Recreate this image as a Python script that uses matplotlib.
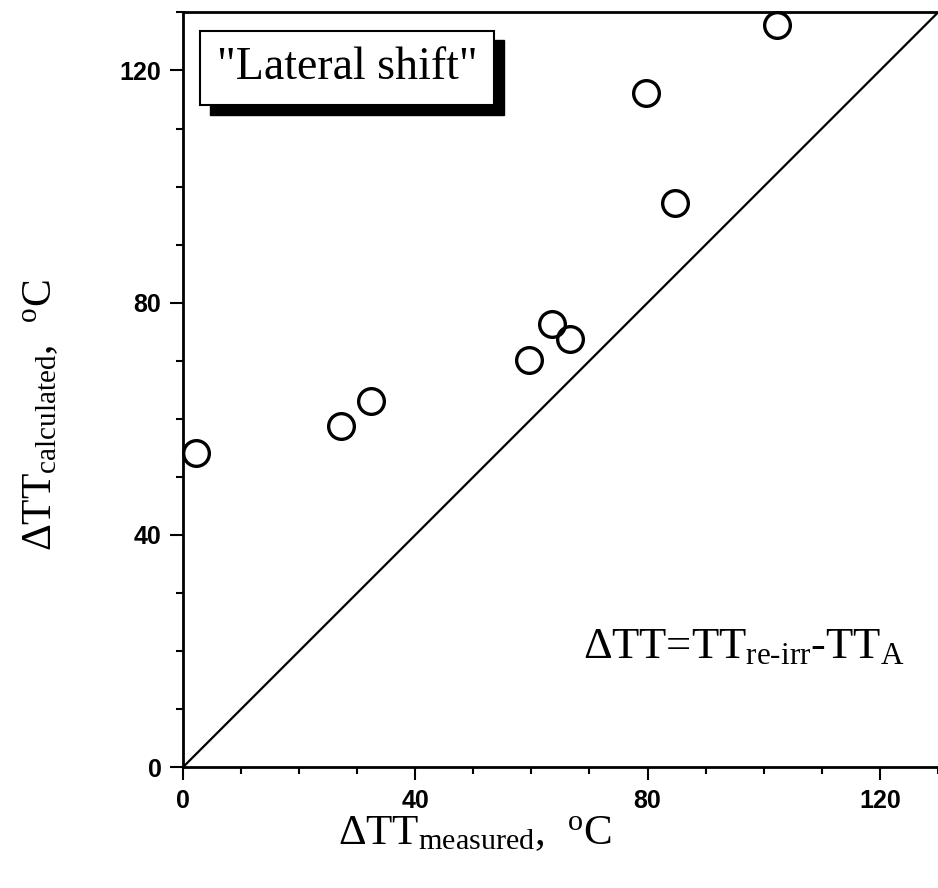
import matplotlib.pyplot as plt
from matplotlib.patches import Rectangle
from matplotlib.ticker import MultipleLocator

plt.rcParams['mathtext.fontset'] = 'custom'
plt.rcParams['mathtext.rm'] = 'Liberation Serif'
plt.rcParams['mathtext.it'] = 'Liberation Serif:italic'
plt.rcParams['font.family'] = 'Liberation Sans'

# measured vs calculated shift, degrees C
dtt_measured = [2.2, 27.2, 32.4, 59.6, 63.6, 66.6, 79.7, 84.8, 102.2]
dtt_calculated = [54.1, 58.7, 63.1, 70.1, 76.3, 73.8, 116.2, 97.1, 127.8]
major_ticks = [0, 40, 80, 120]
line_x = [0, 130]

fig = plt.figure(figsize=(9.38, 8.88), dpi=100)
ax = fig.add_axes([0.195, 0.136, 0.805, 0.850])

ax.plot(line_x, line_x, color='black', lw=1.6)
ax.plot(dtt_measured, dtt_calculated, 'o', ms=18.5, mfc='none', mec='black', mew=2.4,
        clip_on=False)

ax.set_xlim(0, 130)
ax.set_ylim(0, 130)
ax.set_xticks(major_ticks)
ax.set_yticks(major_ticks)
ax.xaxis.set_minor_locator(MultipleLocator(10))
ax.yaxis.set_minor_locator(MultipleLocator(10))
ax.tick_params(which='major', direction='out', length=9.5, width=1.5, pad=6,
               labelsize=18)
ax.tick_params(which='minor', direction='out', length=5, width=1.5)
for lab in ax.get_xticklabels() + ax.get_yticklabels():
    lab.set_fontweight('bold')

for s in ['left', 'bottom', 'top']:
    ax.spines[s].set_linewidth(2)
ax.spines['right'].set_visible(False)

ax.set_xlabel(r'$\Delta$TT$_{\mathrm{measured}}$,  $^{\mathrm{o}}$C',
              family='Liberation Serif', fontsize=31)
ax.xaxis.set_label_coords(0.387, -0.062)
ax.set_ylabel(r'$\Delta$TT$_{\mathrm{calculated}}$,  $^{\mathrm{o}}$C',
              family='Liberation Serif', fontsize=30)
ax.yaxis.set_label_coords(-0.162, 0.466)

# "Lateral shift" box with drop shadow
bx0, by0, bw, bh = 0.0225, 0.877, 0.39, 0.099
ax.add_patch(Rectangle((bx0 + 0.013, by0 - 0.013), bw, bh, transform=ax.transAxes,
                       facecolor='black', edgecolor='black', zorder=5))
ax.add_patch(Rectangle((bx0, by0), bw, bh, transform=ax.transAxes,
                       facecolor='white', edgecolor='black', lw=1.5, zorder=6))
ax.text(bx0 + bw / 2, by0 + bh / 2, '"Lateral shift"', transform=ax.transAxes,
        ha='center', va='center', family='Liberation Serif', fontsize=33, zorder=7)

ax.text(0.53, 0.145, r'$\Delta$TT=TT$_{\mathrm{re\text{-}irr}}$-TT$_{\mathrm{A}}$',
        transform=ax.transAxes, ha='left', va='baseline',
        family='Liberation Serif', fontsize=32)

fig.savefig('out.png', dpi=100)
